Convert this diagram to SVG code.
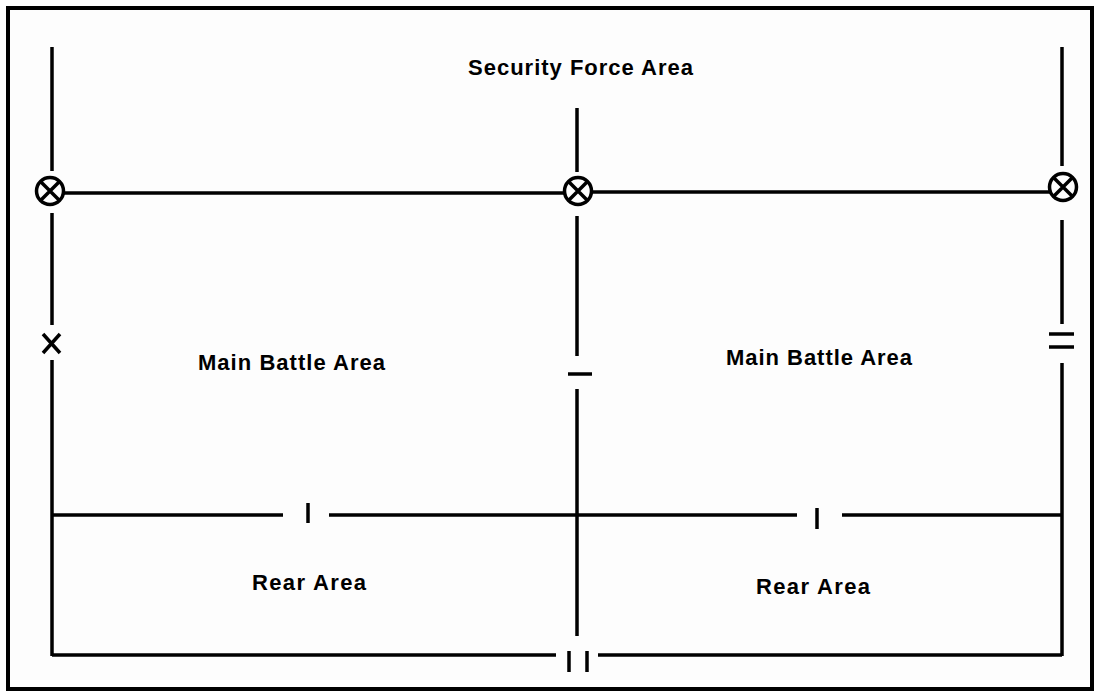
<svg xmlns="http://www.w3.org/2000/svg" width="1096" height="692" viewBox="0 0 1096 692">
<style>
.ln{stroke:#000;stroke-width:3.5;fill:none;stroke-linecap:butt}
.lbl{font-family:"Liberation Sans",Arial,sans-serif;font-weight:bold;font-size:22px;fill:#000}
</style>
<defs>
<g id="cx"><circle cx="0" cy="0" r="13.5" class="ln"/><path d="M-9.5,-9.5 L9.5,9.5 M9.5,-9.5 L-9.5,9.5" class="ln"/></g>
</defs>
<rect x="0" y="0" width="1096" height="692" fill="#fff"/>
<rect id="frame" x="8" y="8" width="1084" height="681" fill="#fdfdfd" stroke="#000" stroke-width="4"/>
<g id="connectors">
<path class="ln" d="M52,47 V171 M52,213 V325 M52,360 V656"/>
<path class="ln" d="M577,108 V172 M577,216 V356 M577,389 V636"/>
<path class="ln" d="M1062,47 V166 M1062,220 V324 M1062,363 V656"/>
<path class="ln" d="M63,193 H565 M592,192 H1050"/>
<path class="ln" d="M52,515 H283 M329,515 H797 M842,515 H1062"/>
<path class="ln" d="M52,655 H556 M598,655 H1062"/>
</g>
<g id="marker-left-feba"><use href="#cx" x="50" y="191"/></g>
<g id="marker-mid-feba"><use href="#cx" x="578" y="191"/></g>
<g id="marker-right-feba"><use href="#cx" x="1063" y="187"/></g>
<g id="echelon-x"><path class="ln" d="M43,334 L60,353 M60,334 L43,353"/></g>
<g id="echelon-mid"><path class="ln" d="M568,374 H592"/></g>
<g id="echelon-right"><path class="ln" d="M1049,334 H1074 M1049,347 H1074"/></g>
<g id="echelon-rear-left"><path class="ln" d="M308,503 V523"/></g>
<g id="echelon-rear-right"><path class="ln" d="M817,508 V529"/></g>
<g id="echelon-bottom"><path class="ln" d="M569,651 V672 M587,651 V672"/></g>
<g id="label-security"><text class="lbl" x="468" y="75" textLength="225" lengthAdjust="spacing">Security Force Area</text></g>
<g id="label-mba-left"><text class="lbl" x="198" y="370" textLength="187" lengthAdjust="spacing">Main Battle Area</text></g>
<g id="label-mba-right"><text class="lbl" x="726" y="365" textLength="186" lengthAdjust="spacing">Main Battle Area</text></g>
<g id="label-rear-left"><text class="lbl" x="252" y="590" textLength="114" lengthAdjust="spacing">Rear Area</text></g>
<g id="label-rear-right"><text class="lbl" x="756" y="594" textLength="114" lengthAdjust="spacing">Rear Area</text></g>
</svg>
